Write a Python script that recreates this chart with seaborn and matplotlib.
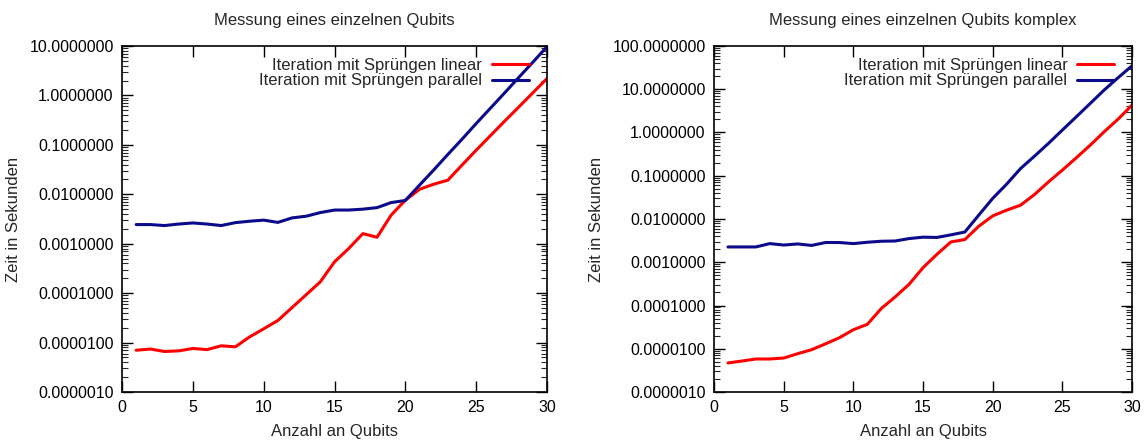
import numpy as np
import pandas as pd
import matplotlib
matplotlib.use("Agg")
import matplotlib.pyplot as plt
import seaborn as sns
from matplotlib.ticker import FixedLocator, FormatStrFormatter, NullFormatter

qubits = list(range(1, 31))

# Left panel: Messung eines einzelnen Qubits
left_linear = [7.0e-6, 7.4e-6, 6.6e-6, 6.8e-6, 7.6e-6, 7.2e-6, 8.6e-6, 8.2e-6, 1.3e-5, 1.9e-5,
               2.8e-5, 5.1e-5, 9.3e-5, 1.7e-4, 4.3e-4, 8.0e-4, 1.6e-3, 1.35e-3, 3.8e-3, 7.6e-3,
               1.26e-2, 1.6e-2, 1.93e-2, 3.9e-2, 7.8e-2, 0.153, 0.30, 0.58, 1.13, 2.2]
left_parallel = [2.44e-3, 2.44e-3, 2.33e-3, 2.5e-3, 2.63e-3, 2.5e-3, 2.33e-3, 2.67e-3, 2.85e-3, 3.0e-3,
                 2.7e-3, 3.33e-3, 3.6e-3, 4.27e-3, 4.8e-3, 4.8e-3, 5.0e-3, 5.37e-3, 6.8e-3, 7.5e-3,
                 1.53e-2, 3.1e-2, 0.064, 0.13, 0.27, 0.55, 1.12, 2.3, 4.7, 9.7]

# Right panel: Messung eines einzelnen Qubits komplex
right_linear = [4.7e-6, 5.2e-6, 5.8e-6, 5.8e-6, 6.1e-6, 7.7e-6, 9.5e-6, 1.3e-5, 1.8e-5, 2.76e-5,
                3.67e-5, 8.5e-5, 1.58e-4, 3.1e-4, 7.5e-4, 1.53e-3, 2.95e-3, 3.35e-3, 6.8e-3, 1.18e-2,
                1.6e-2, 2.09e-2, 3.68e-2, 7.2e-2, 0.135, 0.26, 0.51, 1.04, 2.04, 4.3]
right_parallel = [2.26e-3, 2.26e-3, 2.26e-3, 2.7e-3, 2.5e-3, 2.65e-3, 2.45e-3, 2.86e-3, 2.86e-3, 2.7e-3,
                  2.9e-3, 3.06e-3, 3.1e-3, 3.53e-3, 3.8e-3, 3.75e-3, 4.3e-3, 5.0e-3, 1.23e-2, 3.0e-2,
                  6.4e-2, 0.147, 0.284, 0.56, 1.14, 2.31, 4.7, 9.6, 18.5, 35.0]

series_names = ["Iteration mit Sprüngen linear", "Iteration mit Sprüngen parallel"]
titles = ["Messung eines einzelnen Qubits", "Messung eines einzelnen Qubits komplex"]
xlabel = "Anzahl an Qubits"
ylabel = "Zeit in Sekunden"
xticks = [0, 5, 10, 15, 20, 25, 30]
ytick_exponents = [list(range(-6, 2)), list(range(-6, 3))]

sns.set_theme(style="ticks")
plt.rcParams["font.family"] = ["Liberation Sans", "DejaVu Sans"]

palette = {series_names[0]: "#ff0000", series_names[1]: "#0a0a8a"}

fig = plt.figure(figsize=(11.48, 4.41), dpi=100)
ax_positions = [[0.1063, 0.1111, 0.3702, 0.7846], [0.6220, 0.1111, 0.3641, 0.7846]]

panels = [(left_linear, left_parallel), (right_linear, right_parallel)]

for i, (lin, par) in enumerate(panels):
    ax = fig.add_axes(ax_positions[i])
    df = pd.DataFrame({
        "x": qubits + qubits,
        "y": lin + par,
        "series": [series_names[0]] * len(qubits) + [series_names[1]] * len(qubits),
    })
    sns.lineplot(data=df, x="x", y="y", hue="series", palette=palette, ax=ax, linewidth=2.2,
                 hue_order=series_names)
    ax.set_yscale("log")
    exps = ytick_exponents[i]
    majors = [10.0 ** e for e in exps]
    minors = [m * 10.0 ** e for e in exps[:-1] for m in range(2, 10)]
    ax.set_xlim(0, 30)
    ax.set_ylim(majors[0], majors[-1])
    ax.set_xticks(xticks)
    ax.yaxis.set_major_locator(FixedLocator(majors))
    ax.yaxis.set_minor_locator(FixedLocator(minors))
    ax.yaxis.set_major_formatter(FormatStrFormatter("%.7f"))
    ax.yaxis.set_minor_formatter(NullFormatter())
    ax.tick_params(axis="both", which="major", direction="in", length=8, width=1.0,
                   top=True, right=True, labelsize=11.5, colors="black")
    ax.tick_params(axis="y", which="major", pad=6)
    ax.tick_params(axis="x", which="major", pad=6)
    ax.tick_params(axis="both", which="minor", direction="in", length=4, width=0.8,
                   top=True, right=True)
    ax.tick_params(axis="x", which="minor", bottom=False, top=False)
    for sp in ax.spines.values():
        sp.set_visible(True)
        sp.set_color("black")
        sp.set_linewidth(1.2)
    ax.set_title(titles[i], fontsize=12, pad=15)
    ax.set_xlabel(xlabel, fontsize=12, labelpad=6)
    ax.set_ylabel(ylabel, fontsize=12, labelpad=6)
    handles, labels = ax.get_legend_handles_labels()
    ax.legend(handles, labels, loc="upper right", bbox_to_anchor=(0.985, 1.0), frameon=False,
              markerfirst=False, fontsize=12, handlelength=2.2, handletextpad=0.6,
              labelspacing=0.05, borderaxespad=0.3)

fig.savefig("out.png", dpi=100)
